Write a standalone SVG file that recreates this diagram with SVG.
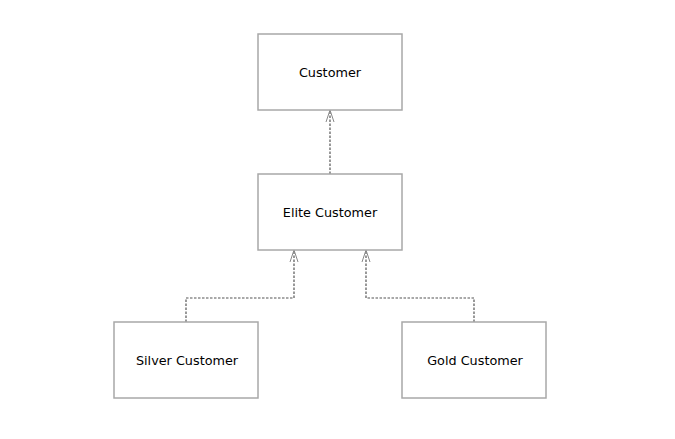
<svg xmlns="http://www.w3.org/2000/svg" width="675" height="439" viewBox="0 0 675 439">
<style>
.box{fill:#fff;stroke:#a8a8a8;stroke-width:1.5}
.lbl{font-family:"DejaVu Sans",Verdana,sans-serif;font-size:12.8px;fill:#000;text-anchor:middle;dominant-baseline:central}
.con{fill:none;stroke:#555;stroke-width:1.2;stroke-dasharray:2.5,1.5}
</style>
<defs>
<marker id="arr" viewBox="0 0 12 12" refX="12" refY="6" markerWidth="12" markerHeight="12" markerUnits="userSpaceOnUse" orient="auto">
<path d="M0,2 L12,6 L0,10" fill="none" stroke="#888" stroke-width="1"/>
</marker>
</defs>
<rect width="675" height="439" fill="#fff"/>
<g id="connectors">
<path class="con" d="M330,174 V110" marker-end="url(#arr)"/>
<path class="con" d="M186,322 V298 H294 V250" marker-end="url(#arr)"/>
<path class="con" d="M474,322 V298 H366 V250" marker-end="url(#arr)"/>
</g>
<g id="customer"><rect class="box" x="258" y="34" width="144" height="76"/><text class="lbl" x="330" y="72">Customer</text></g>
<g id="elite"><rect class="box" x="258" y="174" width="144" height="76"/><text class="lbl" x="330" y="212">Elite Customer</text></g>
<g id="silver"><rect class="box" x="114" y="322" width="144" height="76"/><text class="lbl" x="187" y="360">Silver Customer</text></g>
<g id="gold"><rect class="box" x="402" y="322" width="144" height="76"/><text class="lbl" x="475" y="360">Gold Customer</text></g>
</svg>
